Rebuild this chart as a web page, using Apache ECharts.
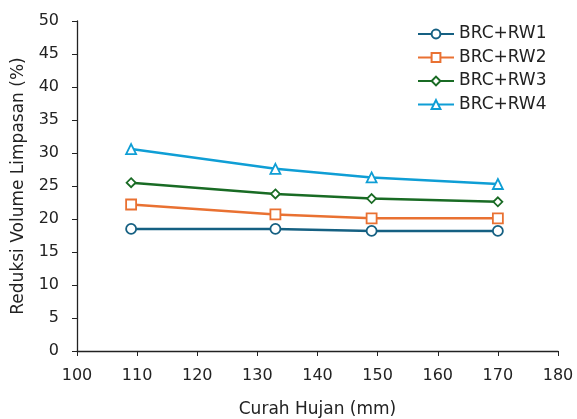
<!DOCTYPE html>
<html>
<head>
<meta charset="utf-8">
<script src="https://cdn.jsdelivr.net/npm/echarts@6/dist/echarts.min.js"></script>
<style>
  html, body { margin: 0; padding: 0; background: #fff; }
  #chart { width: 577px; height: 419px; }
</style>
</head>
<body>
<div id="chart"></div>
<script>
const curahHujan = [109, 133, 149, 170]
const seriesNames = ['BRC+RW1', 'BRC+RW2', 'BRC+RW3', 'BRC+RW4']
const rw1 = [18.5, 18.5, 18.2, 18.2]
const rw2 = [22.2, 20.7, 20.1, 20.1]
const rw3 = [25.5, 23.8, 23.1, 22.6]
const rw4 = [30.6, 27.6, 26.3, 25.3]
const colors = ['#156082', '#E97132', '#196B24', '#0F9ED5']
const symbols = ['circle', 'rect', 'diamond', 'triangle']

const font = 'DejaVu Sans, sans-serif'
const chart = echarts.init(document.getElementById('chart'))

const makeSeries = (name, values, i) => ({
    name: name,
    type: 'line',
    data: curahHujan.map((x, k) => [x, values[k]]),
    symbol: symbols[i],
    symbolSize: i === 2 ? 9 : 10,
    showSymbol: true,
    lineStyle: { color: colors[i], width: 2.5 },
    itemStyle: { color: '#fff', borderColor: colors[i], borderWidth: 1.8 },
    emphasis: { disabled: true },
})

chart.setOption({
    animation: false,
    color: colors,
    grid: { left: 77, right: 19, top: 21, bottom: 68, outerBoundsMode: 'none', containLabel: false },
    legend: {
        orient: 'vertical',
        left: 412,
        top: 19,
        itemWidth: 36,
        itemHeight: 11,
        itemGap: 3.5,
        textStyle: { fontFamily: font, fontSize: 17, color: '#222', lineHeight: 20 },
        data: seriesNames,
    },
    xAxis: {
        type: 'value',
        min: 100,
        max: 180,
        interval: 10,
        name: 'Curah Hujan (mm)',
        nameLocation: 'middle',
        nameGap: 50,
        nameTextStyle: { fontFamily: font, fontSize: 17, color: '#222' },
        axisLine: { lineStyle: { color: '#222', width: 1.3 } },
        axisTick: { show: true, length: 5, lineStyle: { color: '#222' } },
        axisLabel: { fontFamily: font, fontSize: 16, color: '#222', margin: 17 },
        splitLine: { show: false },
    },
    yAxis: {
        type: 'value',
        min: 0,
        max: 50,
        interval: 5,
        name: 'Reduksi Volume Limpasan (%)',
        nameLocation: 'middle',
        nameGap: 50,
        nameTextStyle: { fontFamily: font, fontSize: 17, color: '#222' },
        axisLine: { show: true, lineStyle: { color: '#222', width: 1.3 } },
        axisTick: { show: true, length: 5, lineStyle: { color: '#222' } },
        axisLabel: { fontFamily: font, fontSize: 16, color: '#222', margin: 18 },
        splitLine: { show: false },
    },
    series: [
        makeSeries(seriesNames[0], rw1, 0),
        makeSeries(seriesNames[1], rw2, 1),
        makeSeries(seriesNames[2], rw3, 2),
        makeSeries(seriesNames[3], rw4, 3),
    ],
})
</script>
</body>
</html>
